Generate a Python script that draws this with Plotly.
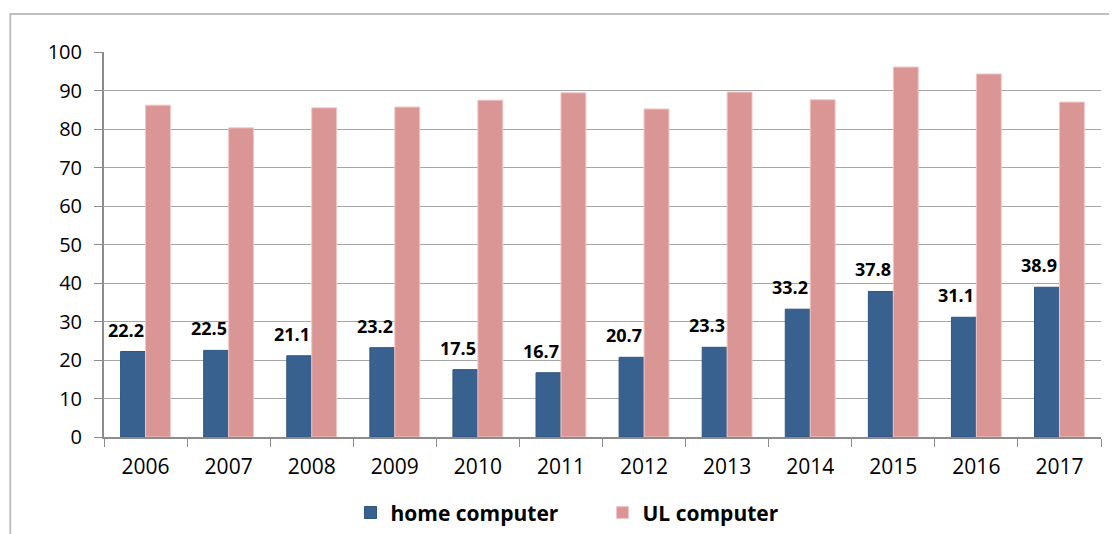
import plotly.graph_objects as go

years = ["2006", "2007", "2008", "2009", "2010", "2011", "2012", "2013", "2014", "2015", "2016", "2017"]
home = [22.2, 22.5, 21.1, 23.2, 17.5, 16.7, 20.7, 23.3, 33.2, 37.8, 31.1, 38.9]
ul = [86.2, 80.3, 85.5, 85.7, 87.5, 89.4, 85.2, 89.6, 87.6, 96.1, 94.3, 87.0]
y_ticks = [0, 10, 20, 30, 40, 50, 60, 70, 80, 90, 100]

FONT = "Open Sans"
fig = go.Figure()
fig.add_trace(go.Bar(x=years, y=home, name="home computer",
                     marker=dict(color="#386190", line=dict(color="#2f5582", width=1))))
fig.add_trace(go.Bar(x=years, y=ul, name="UL computer",
                     marker=dict(color="#d99694", line=dict(color="#f0c8c6", width=1))))

# category axis: numeric-looking strings would be read as indices, so use the index position
for i, v in enumerate(home):
    fig.add_annotation(x=i, y=v, text=f"<b>{v:.1f}</b>", showarrow=False,
                       xshift=-20, yshift=22, font=dict(family=FONT, size=18, color="black"))

fig.add_shape(type="rect", xref="paper", yref="paper", x0=-0.094, x1=1.2, y0=-0.6, y1=1.099,
              line=dict(color="#c0c0c0", width=2), fillcolor="rgba(0,0,0,0)", layer="below")

# page body has an 8px default margin, so the figure is sized/offset to compensate
fig.update_layout(
    width=1109, height=526,
    margin=dict(l=96, r=16, t=44, b=97, autoexpand=False),
    paper_bgcolor="white", plot_bgcolor="white",
    barmode="group", bargap=0.4, bargroupgap=0,
    font=dict(family=FONT, size=20, color="black"),
    legend=dict(orientation="h", x=0.5, xanchor="center", y=-0.197, yanchor="middle",
                font=dict(family=FONT, size=21, color="black", weight="bold"),
                entrywidth=207, itemwidth=30),
    showlegend=True,
)
fig.update_xaxes(type="category", automargin=False, showline=True, linecolor="#8c8c8c", linewidth=2,
                 ticks="outside", tickson="boundaries", ticklen=8, tickcolor="#8c8c8c", tickwidth=1,
                 tickangle=0, ticklabelstandoff=10, tickfont=dict(family=FONT, size=21, color="black"))
fig.update_yaxes(range=[0, 100], tickvals=y_ticks, automargin=False, showline=True, linecolor="#8c8c8c",
                 linewidth=2, ticks="outside", ticklen=8, tickcolor="#8c8c8c", tickwidth=1,
                 ticklabelstandoff=8,
                 showgrid=True, gridcolor="#a6a6a6", gridwidth=1, zeroline=False,
                 tickfont=dict(family=FONT, size=20, color="black"))

fig.write_html("out.html")
